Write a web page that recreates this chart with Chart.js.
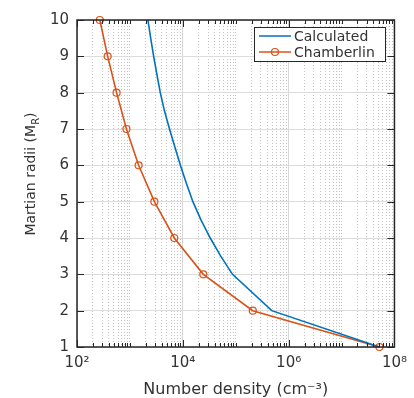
<!DOCTYPE html>
<html>
<head>
<meta charset="utf-8">
<script src="https://cdn.jsdelivr.net/npm/chart.js@4"></script>
<style>
  html, body { margin: 0; padding: 0; background: #fff; }
  canvas { display: block; }
</style>
</head>
<body>
<canvas id="chart" width="414" height="398"></canvas>
<script>
// values
const calcRadii = [1, 2, 3, 3.5, 4, 4.5, 5, 5.5, 6, 6.5, 7, 7.5, 8, 8.5, 9, 9.5, 10];
const calculated = [5.2e7, 4.8e5, 8.7e4, 5.2e4, 3.3e4, 2.2e4, 1.55e4, 1.17e4, 9.0e3, 7.1e3, 5.6e3, 4.5e3, 3.75e3, 3.24e3, 2.81e3, 2.47e3, 2.19e3];
const chamRadii = [1, 2, 3, 4, 5, 6, 7, 8, 9, 10];
const chamberlin = [5.2e7, 2.1e5, 2.44e4, 6.9e3, 2.9e3, 1.46e3, 860, 560, 380, 270];

const xTickValues = [1e2, 1e4, 1e6, 1e8];
const xTickLabels = ["10²", "10⁴", "10⁶", "10⁸"];
const yTickValues = [1, 2, 3, 4, 5, 6, 7, 8, 9, 10];

const FONT = "'DejaVu Sans', sans-serif";
const TEXT = "#333333";
const AXIS = "#262626";

const isMajorX = v => xTickValues.some(t => Math.abs(Math.log10(v) - Math.log10(t)) < 1e-9);

function toPoints(xs, ys) {
    return ys.map((r, i) => ({ x: xs[i], y: r }));
}

// box round the axes, with inward ticks like the original
const framePlugin = {
    id: "frame",
    afterDatasetsDraw(chart) {
        const { ctx, chartArea: a, scales: { x, y } } = chart;
        ctx.save();
        ctx.strokeStyle = AXIS;
        ctx.lineWidth = 1;
        ctx.beginPath();
        x.ticks.forEach(t => {
            const px = Math.round(x.getPixelForValue(t.value)) + 0.5;
            const len = isMajorX(t.value) ? 7 : 4;
            ctx.moveTo(px, a.bottom); ctx.lineTo(px, a.bottom - len);
            ctx.moveTo(px, a.top); ctx.lineTo(px, a.top + len);
        });
        y.ticks.forEach(t => {
            const py = Math.round(y.getPixelForValue(t.value)) + 0.5;
            ctx.moveTo(a.left, py); ctx.lineTo(a.left + 7, py);
            ctx.moveTo(a.right, py); ctx.lineTo(a.right - 7, py);
        });
        ctx.stroke();
        ctx.lineWidth = 1.5;
        ctx.strokeRect(a.left, a.top, a.right - a.left, a.bottom - a.top);
        ctx.restore();
    },
};

// axis titles (y title needs a subscript)
const titlesPlugin = {
    id: "titles",
    afterDraw(chart) {
        const { ctx, chartArea: a } = chart;
        ctx.save();
        ctx.fillStyle = TEXT;
        ctx.textBaseline = "alphabetic";

        // x title
        ctx.font = `16px ${FONT}`;
        ctx.textAlign = "center";
        ctx.fillText("Number density (cm⁻³)", (a.left + a.right) / 2, 394);

        // y title, rotated
        ctx.translate(35, 174);
        ctx.rotate(-Math.PI / 2);
        ctx.textAlign = "left";
        const mainFont = `14px ${FONT}`;
        const subFont = `10px ${FONT}`;
        ctx.font = mainFont;
        const w1 = ctx.measureText("Martian radii (M").width;
        const w3 = ctx.measureText(")").width;
        ctx.font = subFont;
        const w2 = ctx.measureText("R").width;
        let sx = -(w1 + w2 + w3) / 2;
        ctx.font = mainFont;
        ctx.fillText("Martian radii (M", sx, 0);
        sx += w1;
        ctx.font = subFont;
        ctx.fillText("R", sx, 4);
        sx += w2;
        ctx.font = mainFont;
        ctx.fillText(")", sx, 0);
        ctx.restore();
    },
};

// legend box in the upper right of the plot
const legendPlugin = {
    id: "boxLegend",
    afterDraw(chart) {
        const { ctx } = chart;
        const left = 254, top = 27, w = 131, h = 34;
        ctx.save();
        ctx.fillStyle = "#fff";
        ctx.fillRect(left, top, w, h);
        ctx.strokeStyle = AXIS;
        ctx.lineWidth = 1;
        ctx.strokeRect(left + 0.5, top + 0.5, w, h);
        ctx.font = `14px ${FONT}`;
        ctx.textBaseline = "middle";
        ctx.fillStyle = TEXT;
        chart.data.datasets.forEach((ds, i) => {
            const cy = top + 9 + i * 16;
            ctx.strokeStyle = ds.borderColor;
            ctx.lineWidth = 1.5;
            ctx.beginPath();
            ctx.moveTo(left + 5, cy);
            ctx.lineTo(left + 37, cy);
            ctx.stroke();
            if (ds.pointRadius > 0) {
                ctx.beginPath();
                ctx.arc(left + 21, cy, ds.pointRadius, 0, Math.PI * 2);
                ctx.lineWidth = ds.pointBorderWidth;
                ctx.stroke();
            }
            ctx.fillText(ds.label, left + 40, cy + 1);
        });
        ctx.restore();
    },
};

new Chart(document.getElementById("chart"), {
    type: "line",
    data: {
        datasets: [
            {
                label: "Calculated",
                data: toPoints(calculated, calcRadii),
                borderColor: "#0072BD",
                borderWidth: 1.6,
                pointRadius: 0,
                tension: 0,
                clip: false,
            },
            {
                label: "Chamberlin",
                data: toPoints(chamberlin, chamRadii),
                borderColor: "#D95319",
                borderWidth: 1.6,
                pointRadius: 3.5,
                pointBorderWidth: 1.2,
                pointBackgroundColor: "rgba(0,0,0,0)",
                pointBorderColor: "#D95319",
                tension: 0,
                clip: false,
            },
        ],
    },
    options: {
        responsive: false,
        animation: false,
        devicePixelRatio: 1,
        layout: { padding: { top: 20, right: 18, left: 0, bottom: 0 } },
        plugins: { legend: { display: false }, tooltip: { enabled: false } },
        scales: {
            x: {
                type: "logarithmic",
                min: 1e2,
                max: 1e8,
                afterBuildTicks(scale) {
                    const ticks = [];
                    for (let e = 2; e < 8; e++) {
                        for (let m = 1; m <= 9; m++) ticks.push({ value: m * 10 ** e });
                    }
                    ticks.push({ value: 1e8 });
                    scale.ticks = ticks;
                },
                afterFit(scale) { scale.height = 51; },
                ticks: {
                    autoSkip: false,
                    maxRotation: 0,
                    padding: 7,
                    color: TEXT,
                    font: { family: FONT, size: 15 },
                    callback(value) {
                        const i = xTickValues.findIndex(t => Math.abs(Math.log10(value) - Math.log10(t)) < 1e-9);
                        return i >= 0 ? xTickLabels[i] : "";
                    },
                },
                grid: {
                    drawTicks: false,
                    color: c => (c.tick && isMajorX(c.tick.value)) ? "#d6d6d6" : "#c4c4c4",
                    lineWidth: 1,
                },
                border: {
                    display: false,
                    dash: c => (c.tick && !isMajorX(c.tick.value)) ? [1, 2] : [],
                },
            },
            y: {
                type: "linear",
                min: 1,
                max: 10,
                afterBuildTicks(scale) {
                    scale.ticks = yTickValues.map(v => ({ value: v }));
                },
                afterFit(scale) { scale.width = 77; },
                ticks: {
                    padding: 8,
                    color: TEXT,
                    font: { family: FONT, size: 15 },
                },
                grid: {
                    drawTicks: false,
                    color: "#dcdcdc",
                    lineWidth: 1,
                },
                border: { display: false },
            },
        },
    },
    plugins: [framePlugin, titlesPlugin, legendPlugin],
});
</script>
</body>
</html>
